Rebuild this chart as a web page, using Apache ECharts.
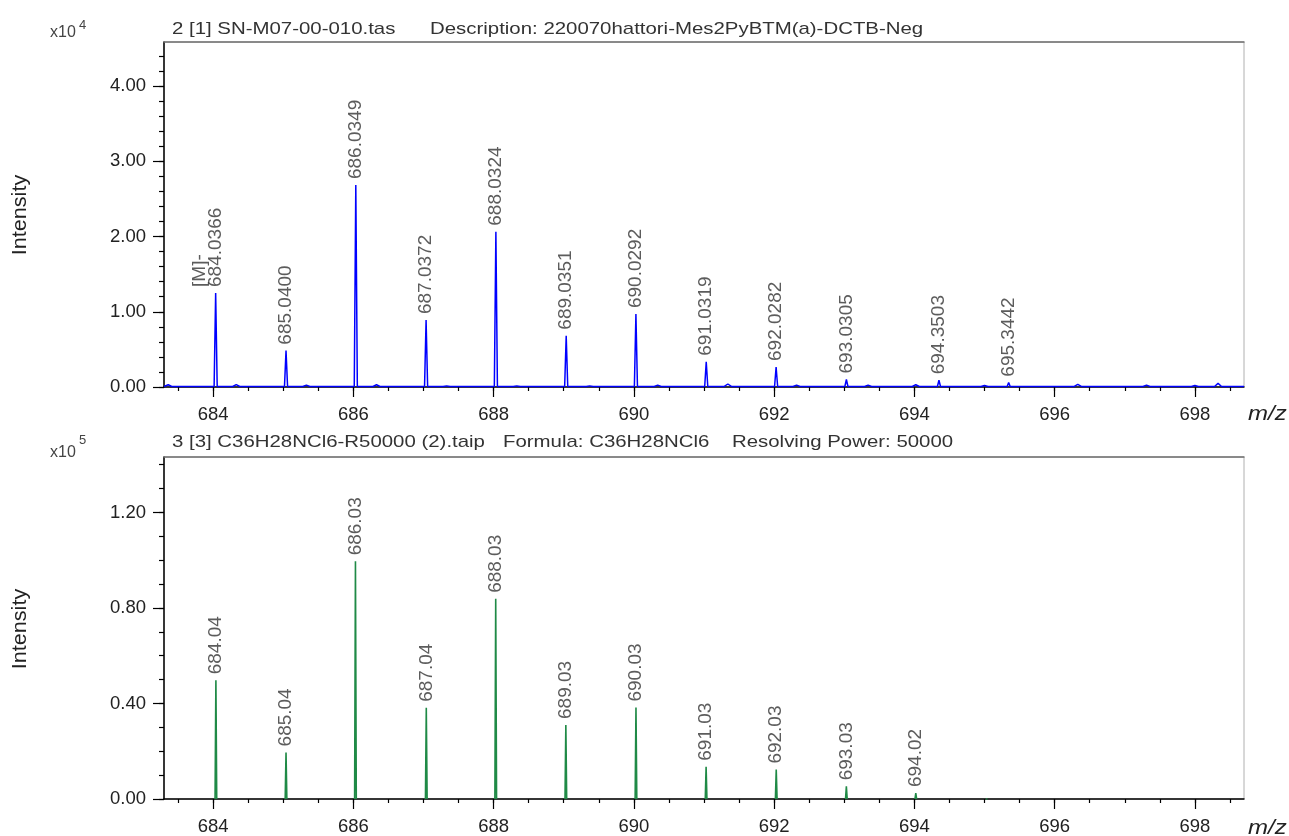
<!DOCTYPE html>
<html>
<head>
<meta charset="utf-8">
<script src="https://cdn.jsdelivr.net/npm/echarts@6/dist/echarts.min.js"></script>
<style>
  html, body { margin: 0; padding: 0; background: #ffffff; }
  #chart { width: 1289px; height: 836px; }
</style>
</head>
<body>
<div id="chart"></div>
<script>
// ---- Measured spectrum (profile), labelled peaks: centroid m/z and height (counts)
const measuredMz  = [684.0366, 685.0400, 686.0349, 687.0372, 688.0324, 689.0351, 690.0292, 691.0319, 692.0282, 693.0305, 694.3503, 695.3442];
const measuredInt = [12500, 4830, 26840, 8900, 20640, 6820, 9700, 3360, 2660, 1000, 890, 580];
const measuredTag = ['[M]-', '', '', '', '', '', '', '', '', '', '', ''];

// ---- Measured spectrum, small unlabelled bumps along the baseline
const noiseMz  = [683.36, 684.33, 685.33, 686.33, 687.33, 688.33, 689.37, 690.34, 691.34, 692.32, 693.34, 694.02, 695.00, 696.33, 697.31, 698.00, 698.33];
const noiseInt = [300, 320, 250, 300, 150, 150, 150, 250, 400, 250, 250, 300, 200, 350, 250, 200, 480];
const baseLevel = 70;

// ---- Calculated isotope pattern C36H28NCl6 (R = 50000)
const calcMz  = [684.04, 685.04, 686.03, 687.04, 688.03, 689.03, 690.03, 691.03, 692.03, 693.03, 694.02, 695.03];
const calcInt = [49700, 19500, 99500, 38200, 83800, 31000, 38300, 13500, 12300, 5300, 2500, 600];
const calcLabel = ['684.04', '685.04', '686.03', '687.04', '688.03', '689.03', '690.03', '691.03', '692.03', '693.03', '694.02', ''];

// ---- Axes
const mzMin = 683.3, mzMax = 698.7;
const xMajorTicks = [684, 686, 688, 690, 692, 694, 696, 698];
const topMax = 45850;
const topMajorTicks = [0, 10000, 20000, 30000, 40000];
const botMax = 143200;
const botMajorTicks = [0, 40000, 80000, 120000];

function steps(from, to, step) {
  const out = [];
  for (let v = from; v <= to + 1e-9; v += step) out.push(Math.round(v * 1000) / 1000);
  return out;
}
const xMinorTicks = steps(683.5, 698.5, 0.5);
const topMinorTicks = steps(0, 44000, 2000);
const botMinorTicks = steps(0, 140000, 10000);

const FONT = '"Liberation Sans", Arial, sans-serif';
const TXT = '#222222';

// Profile trace: baseline with a narrow peak at every listed centroid
function profileTrace() {
  const peaks = [];
  measuredMz.forEach((m, i) => peaks.push([m, measuredInt[i], 0.022]));
  noiseMz.forEach((m, i) => peaks.push([m, noiseInt[i], 0.05]));
  peaks.sort((a, b) => a[0] - b[0]);
  const pts = [[mzMin, baseLevel]];
  peaks.forEach(([m, h, w]) => { pts.push([m - w, baseLevel], [m, h], [m + w, baseLevel]); });
  pts.push([mzMax, baseLevel]);
  return pts;
}

// Stick-like calculated peaks, separated by gaps
function calcTrace() {
  const pts = [];
  calcMz.forEach((m, i) => {
    const w = 0.012;
    pts.push([m - w, 0], [m, calcInt[i]], [m + w, 0], [m + w, '-']);
  });
  return pts;
}

function xAxes(grid) {
  return [
    { // minor ticks + axis line
      type: 'value', gridIndex: grid, position: 'bottom', min: mzMin, max: mzMax,
      axisLine: { show: true, onZero: false, lineStyle: { color: '#000', width: 1.5 } },
      axisTick: { show: true, customValues: xMinorTicks, length: 4, lineStyle: { color: '#000', width: 1.2 } },
      axisLabel: { show: false }, splitLine: { show: false }
    },
    { // major ticks + labels
      type: 'value', gridIndex: grid, position: 'bottom', min: mzMin, max: mzMax,
      axisLine: { show: false, onZero: false },
      axisTick: { show: true, customValues: xMajorTicks, length: 10, lineStyle: { color: '#000', width: 1.2 } },
      axisLabel: { show: true, customValues: xMajorTicks, margin: 18, fontSize: 18.5, fontFamily: FONT, color: TXT },
      splitLine: { show: false }
    },
    { // upper frame line
      type: 'value', gridIndex: grid, position: 'top', min: mzMin, max: mzMax,
      axisLine: { show: true, onZero: false, lineStyle: { color: '#707070', width: 1.5 } },
      axisTick: { show: false }, axisLabel: { show: false }, splitLine: { show: false }
    }
  ];
}

function yAxes(grid, max, minor, major, scale) {
  return [
    {
      type: 'value', gridIndex: grid, position: 'left', min: 0, max: max,
      axisLine: { show: true, onZero: false, lineStyle: { color: '#000', width: 1.5 } },
      axisTick: { show: true, customValues: minor, length: 5, lineStyle: { color: '#000', width: 1.2 } },
      axisLabel: { show: false }, splitLine: { show: false }
    },
    {
      type: 'value', gridIndex: grid, position: 'left', min: 0, max: max,
      axisLine: { show: false, onZero: false },
      axisTick: { show: true, customValues: major, length: 11, lineStyle: { color: '#000', width: 1.2 } },
      axisLabel: {
        show: true, customValues: major, margin: 18, fontSize: 18.5, fontFamily: FONT, color: TXT,
        formatter: v => (v / scale).toFixed(2)
      },
      splitLine: { show: false }
    }
  ];
}

const peakLabel = {
  show: true, position: 'top', distance: 6, rotate: 90, align: 'left', verticalAlign: 'middle',
  fontSize: 19, fontFamily: FONT, color: '#333'
};

const chart = echarts.init(document.getElementById('chart'), null, { renderer: 'canvas' });

function header(text, x, y) {
  return { type: 'text', x: x, y: y, scaleX: 1.2, style: { text: text, font: '17px ' + FONT, fill: '#333', verticalAlign: 'middle' } };
}

chart.setOption({
  animation: false,
  backgroundColor: '#ffffff',
  grid: [
    { left: 164, top: 42, right: 45, height: 345, show: true, borderColor: '#b0b0b0', borderWidth: 1, backgroundColor: 'transparent' },
    { left: 164, top: 457, right: 45, height: 344, show: true, borderColor: '#b0b0b0', borderWidth: 1, backgroundColor: 'transparent' }
  ],
  xAxis: [].concat(xAxes(0), xAxes(1)),
  yAxis: [].concat(
    yAxes(0, topMax, topMinorTicks, topMajorTicks, 1e4),
    yAxes(1, botMax, botMinorTicks, botMajorTicks, 1e5)
  ),
  series: [
    {
      name: 'measured', type: 'line', xAxisIndex: 0, yAxisIndex: 0,
      data: profileTrace(), showSymbol: false, symbol: 'none', clip: true,
      lineStyle: { color: '#0000ff', width: 1.5 }, z: 3
    },
    {
      name: 'measured labels', type: 'scatter', xAxisIndex: 0, yAxisIndex: 0, symbolSize: 0, silent: true,
      data: measuredMz.map((m, i) => [m, measuredInt[i]]),
      label: Object.assign({}, peakLabel, { formatter: p => measuredMz[p.dataIndex].toFixed(4) }), z: 4
    },
    {
      name: 'measured tags', type: 'scatter', xAxisIndex: 0, yAxisIndex: 0, symbolSize: 0, silent: true,
      data: measuredMz.map((m, i) => [m, measuredInt[i]]).filter((d, i) => measuredTag[i]),
      label: Object.assign({}, peakLabel, {
        verticalAlign: 'bottom', lineHeight: 31,
        formatter: p => measuredTag.filter(t => t)[p.dataIndex]
      }), z: 4
    },
    {
      name: 'calculated', type: 'line', xAxisIndex: 3, yAxisIndex: 2,
      data: calcTrace(), showSymbol: false, symbol: 'none', connectNulls: false, clip: true,
      lineStyle: { color: '#1f8a46', width: 1.6 }, z: 3
    },
    {
      name: 'calculated labels', type: 'scatter', xAxisIndex: 3, yAxisIndex: 2, symbolSize: 0, silent: true,
      data: calcMz.map((m, i) => [m, calcInt[i]]),
      label: Object.assign({}, peakLabel, { formatter: p => calcLabel[p.dataIndex] }), z: 4
    }
  ],
  graphic: [
    // panel headers
    header('2 [1] SN-M07-00-010.tas', 172, 29.5),
    header('Description: 220070hattori-Mes2PyBTM(a)-DCTB-Neg', 430, 29.5),
    header('3 [3] C36H28NCl6-R50000 (2).taip', 172, 442),
    header('Formula: C36H28NCl6', 503, 442),
    header('Resolving Power: 50000', 732, 442),
    // scale factors
    { type: 'text', x: 50, y: 33, style: { text: 'x10', font: '16px ' + FONT, fill: '#444', verticalAlign: 'middle' } },
    { type: 'text', x: 79, y: 25, style: { text: '4', font: '13px ' + FONT, fill: '#444', verticalAlign: 'middle' } },
    { type: 'text', x: 50, y: 453, style: { text: 'x10', font: '16px ' + FONT, fill: '#444', verticalAlign: 'middle' } },
    { type: 'text', x: 79, y: 440, style: { text: '5', font: '13px ' + FONT, fill: '#444', verticalAlign: 'middle' } },
    // axis titles
    { type: 'text', x: 20, y: 215, rotation: Math.PI / 2, scaleX: 1.08, style: { text: 'Intensity', font: '20px ' + FONT, fill: TXT, align: 'center', verticalAlign: 'middle' } },
    { type: 'text', x: 20, y: 629, rotation: Math.PI / 2, scaleX: 1.08, style: { text: 'Intensity', font: '20px ' + FONT, fill: TXT, align: 'center', verticalAlign: 'middle' } },
    { type: 'text', x: 1248, y: 414, scaleX: 1.2, style: { text: 'm/z', font: 'italic 20px ' + FONT, fill: TXT, verticalAlign: 'middle' } },
    { type: 'text', x: 1248, y: 828, scaleX: 1.2, style: { text: 'm/z', font: 'italic 20px ' + FONT, fill: TXT, verticalAlign: 'middle' } }
  ]
});
</script>
</body>
</html>
